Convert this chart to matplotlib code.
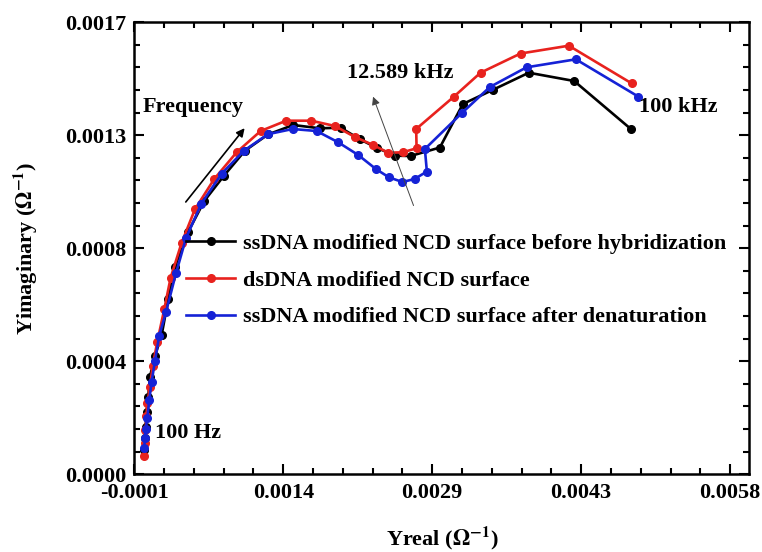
import matplotlib
matplotlib.use('Agg')
import matplotlib.pyplot as plt
from matplotlib.ticker import AutoMinorLocator

plt.rcParams['font.family'] = ['Liberation Serif', 'DejaVu Serif']
plt.rcParams['font.weight'] = 'bold'
plt.rcParams['mathtext.fontset'] = 'stix'

# ssDNA modified NCD surface before hybridization
ss_before_x = [0.0000, 0.0000059, 0.0000129, 0.0000228, 0.0000386, 0.0000554, 0.0001049,
               0.0001712, 0.0002366, 0.0003029, 0.0004345, 0.000593, 0.000788, 0.0009958,
               0.0012235, 0.001474, 0.001738, 0.001943, 0.002134, 0.0022995, 0.002481,
               0.002636, 0.002926, 0.003154, 0.003448, 0.003807, 0.004256, 0.004814]
ss_before_y = [0.0000914, 0.0001377, 0.000179, 0.0002354, 0.0002919, 0.0003671, 0.0004449,
               0.0005239, 0.0006582, 0.0007808, 0.0009124, 0.0010279, 0.001123, 0.001217,
               0.001278, 0.0013137, 0.0013013, 0.0013036, 0.00126, 0.0012284, 0.0011983,
               0.0011971, 0.001229, 0.0013927, 0.0014454, 0.0015104, 0.0014792, 0.0012998]

# dsDNA modified NCD surface
ds_x = [0.0000, 0.0000039, 0.0000109, 0.0000208, 0.0000287, 0.0000554, 0.0000821, 0.0001277,
        0.000197, 0.0002603, 0.0003692, 0.0005009, 0.0006919, 0.0009137, 0.0011512,
        0.0014046, 0.0016522, 0.0018868, 0.0020847, 0.0022659, 0.0024144, 0.002557,
        0.0026956, 0.0026916, 0.0030648, 0.003329, 0.003725, 0.004203, 0.004824]
ds_y = [0.00007, 0.0001177, 0.0001666, 0.0002193, 0.000267, 0.0003295, 0.0004073, 0.0004976,
        0.0006206, 0.0007394, 0.000871, 0.0009967, 0.0011106, 0.001211, 0.0012911,
        0.0013299, 0.0013299, 0.00131, 0.0012686, 0.0012385, 0.0012095, 0.001211,
        0.0012261, 0.0012987, 0.0014202, 0.0015104, 0.0015826, 0.001612, 0.0014706]

# ssDNA modified NCD surface after denaturation
ss_after_x = [0.0000, 0.0000039, 0.0000129, 0.0000287, 0.0000485, 0.0000722, 0.0001049,
              0.0001475, 0.0002138, 0.0003128, 0.0004118, 0.0005632, 0.0007652, 0.0009859,
              0.0012235, 0.001468, 0.0017056, 0.0019194, 0.0021174, 0.0022926, 0.0024213,
              0.002555, 0.0026758, 0.0027975, 0.0027777, 0.0031411, 0.0034211, 0.0037844,
              0.0042724, 0.004893]
ss_after_y = [0.0000989, 0.0001365, 0.0001692, 0.0002106, 0.0002794, 0.0003483, 0.0004261,
              0.0005213, 0.0006093, 0.000756, 0.0008876, 0.0010174, 0.0011306, 0.001217,
              0.0012791, 0.0012987, 0.0012911, 0.0012487, 0.0012009, 0.0011482, 0.001117,
              0.0010993, 0.0011106, 0.0011388, 0.0012234, 0.0013577, 0.0014566, 0.0015307,
              0.0015608, 0.0014202]

x_ticks = [-0.0001, 0.001375, 0.00285, 0.004325, 0.0058]
x_tick_labels = ['-0.0001', '0.0014', '0.0029', '0.0043', '0.0058']
y_ticks = [0.0, 0.000425, 0.00085, 0.001275, 0.0017]
y_tick_labels = ['0.0000', '0.0004', '0.0008', '0.0013', '0.0017']

fig = plt.figure(figsize=(7.62, 5.52), dpi=100)
ax = fig.add_axes([0.1762, 0.1408, 0.8071, 0.8188])

ax.plot(ss_before_x, ss_before_y, '-o', color='black', lw=1.9, ms=5.5,
        label='ssDNA modified NCD surface before hybridization')
ax.plot(ds_x, ds_y, '-o', color='#e8221e', lw=1.9, ms=5.5,
        label='dsDNA modified NCD surface')
ax.plot(ss_after_x, ss_after_y, '-o', color='#1522d6', lw=1.9, ms=5.5,
        label='ssDNA modified NCD surface after denaturation')

ax.set_xlim(-0.0001, 0.00599)
ax.set_ylim(0, 0.0017)
ax.set_xticks(x_ticks)
ax.set_xticklabels(x_tick_labels)
ax.set_yticks(y_ticks)
ax.set_yticklabels(y_tick_labels)
ax.xaxis.set_minor_locator(AutoMinorLocator(5))
ax.yaxis.set_minor_locator(AutoMinorLocator(5))
ax.tick_params(which='both', direction='in', top=True, right=True, width=1.5)
ax.tick_params(which='major', length=7, labelsize=16, pad=6)
ax.tick_params(which='minor', length=4)
for s in ax.spines.values():
    s.set_linewidth(1.8)

ax.set_xlabel(r'Yreal ($\Omega^{-1}$)', fontsize=16, fontweight='bold', labelpad=16)
ax.set_ylabel(r'Yimaginary ($\Omega^{-1}$)', fontsize=16, fontweight='bold', labelpad=18)

# annotations
ax.text(-0.00002, 0.00138, 'Frequency', fontsize=16, fontweight='bold', va='center')
ax.annotate('', xy=(0.00101, 0.00131), xytext=(0.000393, 0.001016),
            arrowprops=dict(arrowstyle='-|>', color='black', lw=1.2, mutation_scale=12))
ax.text(0.00253, 0.00151, '12.589 kHz', fontsize=16, fontweight='bold', va='center', ha='center')
ax.annotate('', xy=(0.002255, 0.00143), xytext=(0.002675, 0.001001),
            arrowprops=dict(arrowstyle='-|>', color='#444444', lw=0.7, mutation_scale=12))
ax.text(0.00490, 0.00138, '100 kHz', fontsize=16, fontweight='bold', va='center')
ax.text(0.00011, 0.000155, '100 Hz', fontsize=16, fontweight='bold', va='center')

ax.legend(loc='upper left', bbox_to_anchor=(0.07, 0.552), frameon=False, fontsize=16,
          handlelength=2.2, handletextpad=0.35, labelspacing=0.72, borderaxespad=0)

fig.savefig('out.png', dpi=100)
